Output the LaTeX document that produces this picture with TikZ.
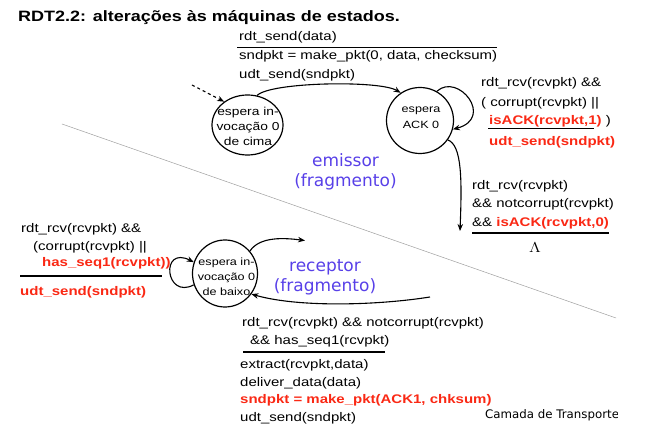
\documentclass[tikz,border=0pt]{standalone}
\usepackage{graphicx}
\usepackage{fontspec}
\setmainfont{Liberation Sans}
\newfontfamily\bluefont{DejaVu Sans}
\usetikzlibrary{shapes.geometric,arrows.meta}
\definecolor{myred}{RGB}{250,40,20}
\definecolor{myblue}{RGB}{88,64,232}
\newcommand\sx[1]{\scalebox{1.2}[1]{#1}}
\tikzset{
  lbl/.style={anchor=base west, inner sep=0pt, font=\fontsize{12.5}{15}\selectfont},
  redlbl/.style={anchor=base west, inner sep=0pt, text=myred, font=\fontsize{12.5}{15}\selectfont\bfseries},
  fsmstate/.style={draw, ellipse, line width=1.2pt, inner sep=0pt},
  stext/.style={anchor=base, inner sep=0pt, font=\fontsize{10.5}{13}\selectfont},
  trans/.style={-{Stealth[length=7pt,width=5.5pt]}, line width=1.1pt},
  rulel/.style={line width=1.8pt},
  bluetxt/.style={anchor=base, inner sep=0pt, text=myblue, font=\bluefont\fontsize{17}{20}\selectfont},
}
\begin{document}
\begin{tikzpicture}[x=1pt,y=-1pt]
\useasboundingbox (0,0) rectangle (646,435);

% title
\node[anchor=base west, inner sep=0pt, font=\fontsize{15}{18}\selectfont\bfseries] (title) at (18,22) {\sx{RDT2.2: alterações às máquinas de estados.}};

% separator
\coordinate (sepA) at (62,124);
\coordinate (sepB) at (616,318);
\draw[gray!75, line width=0.5pt] (sepA) -- (sepB);

% sender states
\node[fsmstate, minimum width=71pt, minimum height=60pt] (s0) at (247.5,125) {};
\node[stext, font=\fontsize{11.5}{13}\selectfont] (s0a) at (248,116) {\sx{espera in-}};
\node[stext, font=\fontsize{11.5}{13}\selectfont] (s0b) at (248,131) {\sx{vocação 0}};
\node[stext, font=\fontsize{11.5}{13}\selectfont] (s0c) at (248,146) {\sx{de cima}};

\node[fsmstate, minimum width=67pt, minimum height=66pt] (a0) at (420,120.5) {};
\node[stext] (a0a) at (421,113) {\sx{espera}};
\node[stext] (a0b) at (421,129) {\sx{ACK 0}};

% sender transitions
\coordinate (init) at (192,85);
\draw[trans, dashed] (init) -- (s0.135);
\draw[trans] (s0.72) .. controls (270,82) and (380,80) .. (a0.125);
\draw[trans] (a0.60) .. controls (458,72) and (495,118) .. (a0.-15);
\coordinate (down) at (460,231);
\draw[trans] (a0.-35) .. controls (462,145) and (462,180) .. (down);

% sender top label
\node[lbl] (t1) at (239,41) {\sx{rdt\_send(data)}};
\draw[rulel] (237,47.5) -- (497,47.5);
\node[lbl] (t2) at (239,60) {\sx{sndpkt = make\_pkt(0, data, checksum)}};
\node[lbl] (t3) at (239,79) {\sx{udt\_send(sndpkt)}};

% sender self loop label
\node[lbl] (l1) at (481,87) {\sx{rdt\_rcv(rcvpkt) \&\&}};
\node[lbl] (l2) at (481,107) {\sx{( corrupt(rcvpkt) ||}};
\node[lbl] (l3) at (489,125) {\sx{{\color{myred}\bfseries isACK(rcvpkt,1)} )}};
\draw[rulel] (488,128.5) -- (594,128.5);
\node[redlbl] (l4) at (489,146) {\sx{udt\_send(sndpkt)}};

% sender down label
\node[lbl] (d1) at (472,190) {\sx{rdt\_rcv(rcvpkt)}};
\node[lbl] (d2) at (472,208) {\sx{\&\& notcorrupt(rcvpkt)}};
\node[lbl] (d3) at (472,227) {\sx{\&\& {\color{myred}\bfseries isACK(rcvpkt,0)}}};
\draw[rulel] (472,233) -- (609,233);
\node[anchor=base, inner sep=0pt, font=\fontsize{15}{15}\selectfont] (lam) at (535,253) {\sx{$\Lambda$}};

% blue labels
\node[bluetxt] (em1) at (345.5,167) {emissor};
\node[bluetxt] (em2) at (345.5,187) {(fragmento)};
\node[bluetxt] (re1) at (325,272) {receptor};
\node[bluetxt] (re2) at (325,292) {(fragmento)};

% receiver state
\node[fsmstate, minimum width=65pt, minimum height=67pt] (r0) at (225,273.5) {};
\node[stext] (r0a) at (226.5,266) {\sx{espera in-}};
\node[stext] (r0b) at (226.5,281) {\sx{vocação 0}};
\node[stext] (r0c) at (226.5,296) {\sx{de baixo}};

% receiver transitions
\draw[trans] (r0.200) .. controls (165,300) and (160,245) .. (r0.160);
\coordinate (rout) at (305,240.5);
\draw[trans] (r0.42) .. controls (260,236) and (285,238) .. (rout);
\coordinate (rin) at (430,297);
\draw[trans] (rin) .. controls (380,305) and (300,308) .. (r0.-38);

% receiver self loop label
\node[lbl] (rl1) at (21,233) {\sx{rdt\_rcv(rcvpkt) \&\&}};
\node[lbl] (rl2) at (33,251) {\sx{(corrupt(rcvpkt) ||}};
\node[redlbl] (rl3) at (42,267) {\sx{has\_seq1(rcvpkt))}};
\draw[rulel] (20,276) -- (162,276);
\node[redlbl] (rl4) at (20,296) {\sx{udt\_send(sndpkt)}};

% receiver bottom label
\node[lbl] (b1) at (242,327) {\sx{rdt\_rcv(rcvpkt) \&\& notcorrupt(rcvpkt)}};
\node[lbl] (b2) at (250,345) {\sx{\&\& has\_seq1(rcvpkt)}};
\draw[rulel] (243,352) -- (385,352);
\node[lbl] (b3) at (240,369) {\sx{extract(rcvpkt,data)}};
\node[lbl] (b4) at (240,387) {\sx{deliver\_data(data)}};
\node[redlbl] (b5) at (240,404) {\sx{sndpkt = make\_pkt(ACK1, chksum)}};
\node[lbl] (b6) at (240,422) {\sx{udt\_send(sndpkt)}};

% footer
\begin{scope}
\clip (480,400) rectangle (617,430);
\node[anchor=base west, inner sep=0pt, font=\bluefont\fontsize{11.8}{14}\selectfont] (foot) at (485,419) {Camada de Transporte};
\end{scope}
\end{tikzpicture}
\end{document}
